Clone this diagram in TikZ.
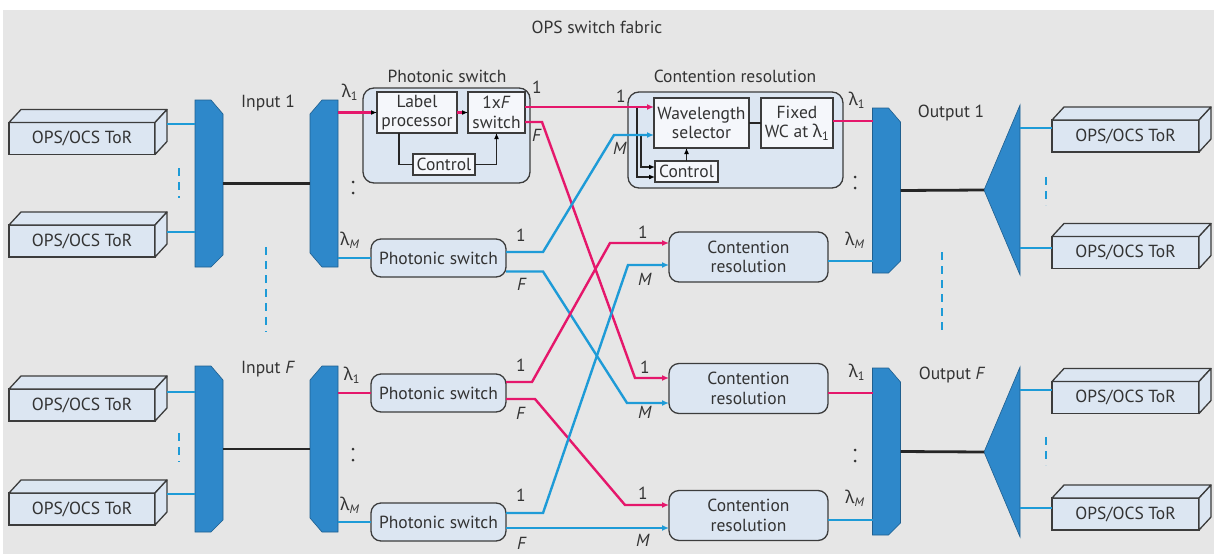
\documentclass[tikz,border=0pt]{standalone}
\usepackage{fontspec}
\setmainfont{PT Sans}
\newfontfamily\greekfont{Noto Sans}
\usetikzlibrary{arrows.meta,calc}

\definecolor{bggray}{HTML}{E6E6E6}
\definecolor{muxblue}{HTML}{2E88CA}
\definecolor{muxedge}{HTML}{1F5F8F}
\definecolor{lineblue}{HTML}{1E9BD7}
\definecolor{linepink}{HTML}{E5176B}
\definecolor{boxfill}{HTML}{DCE6F2}
\definecolor{innerfill}{HTML}{F5F7FB}
\definecolor{edgegray}{HTML}{3C3C3C}
\definecolor{txt}{HTML}{333333}

\newcommand\txtfont{\fontsize{17.5}{19.5}\selectfont}
\newcommand\lam{{\greekfont λ}}

\tikzset{
  lbl/.style={text=txt, font=\txtfont, inner sep=0pt},
  torface/.style={draw=edgegray, line width=1.3pt, fill=boxfill, minimum width=146pt,
    minimum height=32pt, inner sep=0pt, outer sep=0pt, text=txt, font=\txtfont},
  torside/.style={draw=edgegray, line width=1.3pt, fill=boxfill, line join=round},
  muxframe/.style={minimum width=28pt, inner sep=0pt, outer sep=0pt},
  muxpaint/.style={fill=muxblue, draw=muxedge, line width=0.6pt},
  grpbox/.style={draw=edgegray, line width=1.3pt, fill=boxfill, rounded corners=11pt,
    inner sep=0pt, outer sep=0pt},
  rbox/.style={draw=edgegray, line width=1.3pt, fill=boxfill, rounded corners=10pt,
    inner sep=0pt, outer sep=0pt, align=center, text=txt, font=\txtfont},
  inbox/.style={draw=edgegray, line width=1.2pt, fill=innerfill, inner sep=0pt,
    outer sep=0pt, align=center, text=txt, font=\txtfont},
  bl/.style={draw=lineblue, line width=2.4pt},
  pk/.style={draw=linepink, line width=2.4pt},
  tipc/.style={-{Latex[length=7pt,width=6pt]}},
  tipk/.style={-{Latex[length=6pt,width=5pt,color=black]}},
  blk/.style={draw=black!85, line width=2.8pt},
  ctrl/.style={draw=black!85, line width=1.2pt},
  dashblue/.style={draw=lineblue, line width=2.6pt, dash pattern=on 8pt off 6pt},
  dotmark/.style={fill=txt, draw=none},
}

% 3-D top-of-rack box: name, x, y of the front face centre, width
\newcommand\torbox[4]{%
  \node[torface, minimum width=#4pt] (#1) at (#2,#3) {OPS/OCS ToR};
  \filldraw[torside] (#1.north west) -- ++(12,-13) -- ++(#4,0) -- (#1.north east) -- cycle;
  \filldraw[torside] (#1.north east) -- ++(12,-13) -- ++(0,32) -- (#1.south east) -- cycle;
}
% multiplexer with chamfered right side: name, x, y, height
\newcommand\muxright[4]{%
  \node[muxframe, minimum height=#4pt] (#1) at (#2,#3) {};
  \filldraw[muxpaint] (#1.north west) -- ($(#1.north east)+(-12,0)$) -- ($(#1.north east)+(0,14)$)
    -- ($(#1.south east)+(0,-12)$) -- ($(#1.south east)+(-12,0)$) -- (#1.south west) -- cycle;
}
% demultiplexer with chamfered left side: name, x, y, height
\newcommand\muxleft[4]{%
  \node[muxframe, minimum height=#4pt] (#1) at (#2,#3) {};
  \filldraw[muxpaint] (#1.north east) -- ($(#1.north west)+(12,0)$) -- ($(#1.north west)+(0,14)$)
    -- ($(#1.south west)+(0,-14)$) -- ($(#1.south west)+(12,0)$) -- (#1.south east) -- cycle;
}
% passive coupler drawn as a triangle: name, x, y
\newcommand\coupler[3]{%
  \node[muxframe, minimum width=36pt, minimum height=170pt] (#1) at (#2,#3) {};
  \filldraw[muxpaint] (#1.west) -- (#1.north east) -- (#1.south east) -- cycle;
}

\begin{document}
\begin{tikzpicture}[x=1pt,y=-1pt]
  \useasboundingbox (0,0) rectangle (1214,554);
  \fill[white] (0,0) rectangle (1214,554);
  \fill[bggray] (3,10) rectangle (1214,554);

  \node[lbl] (title) at (597,27) {OPS switch fabric};

  % ---------------- ToRs on the input side ----------------
  \torbox{tA}{82}{138.5}{146}
  \torbox{tB}{82}{241}{146}
  \torbox{tC}{82}{405}{146}
  \torbox{tD}{82}{509}{146}

  % ---------------- ToRs on the output side ----------------
  \torbox{rA}{1125.5}{136}{147}
  \torbox{rB}{1125.5}{252.5}{147}
  \torbox{rC}{1125.5}{397.5}{147}
  \torbox{rD}{1125.5}{514}{147}

  % ---------------- multiplexers / demultiplexers ----------------
  \muxright{mA}{209}{183.5}{167}
  \muxright{mF}{209}{449}{166}
  \muxleft{dA}{324}{183.5}{167}
  \muxleft{dF}{324}{449}{166}
  \muxright{oA}{886.5}{190.5}{165}
  \muxright{oF}{886.5}{451.5}{167}
  \coupler{cA}{1002}{190}
  \coupler{cF}{1002}{452}

  \node[lbl] (in1) at (268,103) {Input 1};
  \node[lbl] (inF) at (268,369) {Input \textit{F}};
  \node[lbl] (out1) at (951,113) {Output 1};
  \node[lbl] (outF) at (952,375) {Output \textit{F}};

  % ToR to multiplexer fibres
  \coordinate (tAo) at ($(tA.east)+(12,-14.5)$);
  \coordinate (tBo) at ($(tB.east)+(12,-9)$);
  \coordinate (tCo) at ($(tC.east)+(12,-13)$);
  \coordinate (tDo) at ($(tD.east)+(12,-15)$);
  \draw[bl] (tAo) -- (tAo -| mA.west);
  \draw[bl] (tBo) -- (tBo -| mA.west);
  \draw[bl] (tCo) -- (tCo -| mF.west);
  \draw[bl] (tDo) -- (tDo -| mF.west);

  \draw[blk] (mA.east) -- (dA.west);
  \draw[blk] (mF.east) -- (dF.west);
  \draw[blk] (oA.east) -- (cA.west);
  \draw[blk] (oF.east) -- (cF.west);

  % coupler to ToR fibres
  \coordinate (rAi) at ($(rA.west)+(0,-8)$);
  \coordinate (rBi) at ($(rB.west)+(0,-4.5)$);
  \coordinate (rCi) at ($(rC.west)+(0,-7.5)$);
  \coordinate (rDi) at ($(rD.west)+(0,-6)$);
  \draw[bl] (rAi -| cA.east) -- (rAi);
  \draw[bl] (rBi -| cA.east) -- (rBi);
  \draw[bl] (rCi -| cF.east) -- (rCi);
  \draw[bl] (rDi -| cF.east) -- (rDi);

  % vertical ellipses
  \draw[dashblue] (179,168) -- (179,198);
  \draw[dashblue] (179,433) -- (179,462);
  \draw[dashblue] (1046,177) -- (1046,205);
  \draw[dashblue] (1046,437) -- (1046,465);
  \draw[dashblue] (266,247) -- (266,332);
  \draw[dashblue] (942,252) -- (942,332);
  \foreach \px/\py in {353/182, 353/449, 855/177, 855/450}{
    \fill[dotmark] (\px,\py) circle (1.5);
    \fill[dotmark] (\px,\py+11) circle (1.5);
  }

  % ---------------- detailed photonic switch ----------------
  \node[grpbox, minimum width=167pt, minimum height=95pt] (psg) at (446.5,135.5) {};
  \node[lbl] (psgt) at (447,76) {Photonic switch};
  \node[inbox, minimum width=80pt, minimum height=41pt] (lp) at (417,112.5) {Label\\processor};
  \node[inbox, minimum width=57pt, minimum height=41pt] (sw) at (496.5,112.5) {1x\textit{F}\\switch};
  \node[inbox, minimum width=62pt, minimum height=21pt] (ctl) at (444,164.5) {Control};
  \draw[pk, tipk] (lp.east) -- (sw.west);
  \draw[ctrl] ($(lp.south)+(-18,0)$) |- (ctl.west);
  \draw[ctrl, tipk] (ctl.east) -| (sw.south);

  % ---------------- detailed contention resolution ----------------
  \node[grpbox, minimum width=215pt, minimum height=96pt] (crg) at (735.5,140) {};
  \node[lbl] (crgt) at (735,76) {Contention resolution};
  \node[inbox, minimum width=95pt, minimum height=50pt] (ws) at (701.5,123) {Wavelength\\selector};
  \node[inbox, minimum width=72pt, minimum height=50pt] (wc) at (797,123) {Fixed\\WC at \lam\textsubscript{1}};
  \node[inbox, minimum width=63pt, minimum height=21pt] (ctl2) at (686.5,171.5) {Control};
  \draw[ctrl] (ws.east) -- (wc.west);
  \draw[ctrl, tipk] (ctl2.north) -- (ctl2.north |- ws.south);
  \draw[ctrl, tipk] ($(ws.west)+(-17,-16)$) |- ($(ctl2.west)+(0,5.5)$);
  \draw[ctrl, tipk] ($(ws.west)+(-13,12)$) |- ($(ctl2.west)+(0,-4.5)$);

  % ---------------- compact photonic switches ----------------
  \node[rbox, minimum width=135pt, minimum height=38pt] (ps2) at (438.5,258) {Photonic switch};
  \node[rbox, minimum width=135pt, minimum height=38pt] (ps3) at (438.5,393) {Photonic switch};
  \node[rbox, minimum width=135pt, minimum height=38pt] (ps4) at (438.5,522) {Photonic switch};

  % ---------------- compact contention resolution blocks ----------------
  \node[rbox, minimum width=159pt, minimum height=50pt] (cr2) at (748.5,257) {Contention\\resolution};
  \node[rbox, minimum width=159pt, minimum height=50pt] (cr3) at (748.5,388.5) {Contention\\resolution};
  \node[rbox, minimum width=159pt, minimum height=50pt] (cr4) at (748.5,515.5) {Contention\\resolution};

  % demultiplexer outputs
  \draw[pk, tipk] (lp.west -| dA.east) -- (lp.west);
  \draw[bl] (ps2.west -| dA.east) -- (ps2.west);
  \draw[pk] (ps3.west -| dF.east) -- (ps3.west);
  \draw[bl] (ps4.west -| dF.east) -- (ps4.west);

  % switch outputs towards contention resolution
  \coordinate (s1) at ($(sw.east)+(0,-5.5)$);
  \draw[pk, tipc] (s1) -- (s1 -| ws.west);
  \draw[pk, tipc] ($(sw.east)+(0,9.5)$) -- ++(17,0) -- ($(cr3.west)+(-34,-10.5)$) -- ($(cr3.west)+(0,-10.5)$);
  \draw[bl, tipc] ($(ps2.east)+(0,-6)$) -- ++(37,0) -- ($(ws.west)+(-40,12)$) -- ($(ws.west)+(0,12)$);
  \draw[bl, tipc] ($(ps2.east)+(0,13.5)$) -- ++(37,0) -- ($(cr3.west)+(-42,14.5)$) -- ($(cr3.west)+(0,14.5)$);
  \draw[pk, tipc] ($(ps3.east)+(0,-11)$) -- ++(26,0) -- ($(cr2.west)+(-59,-14)$) -- ($(cr2.west)+(0,-14)$);
  \draw[pk, tipc] ($(ps3.east)+(0,6)$) -- ++(29,0) -- ($(cr4.west)+(-44,-10.5)$) -- ($(cr4.west)+(0,-10.5)$);
  \draw[bl, tipc] ($(ps4.east)+(0,-9)$) -- ++(37,0) -- ($(cr2.west)+(-41,8)$) -- ($(cr2.west)+(0,8)$);
  \draw[bl, tipc] ($(ps4.east)+(0,6)$) -- ($(cr4.west)+(0,12.5)$);

  % contention resolution outputs to the output multiplexers
  \coordinate (w1) at ($(wc.east)+(0,-2)$);
  \coordinate (c2o) at ($(cr2.east)+(0,4)$);
  \coordinate (c3o) at ($(cr3.east)+(0,4.5)$);
  \coordinate (c4o) at ($(cr4.east)+(0,4.5)$);
  \draw[pk] (w1) -- (w1 -| oA.west);
  \draw[bl] (c2o) -- (c2o -| oA.west);
  \draw[pk] (c3o) -- (c3o -| oF.west);
  \draw[bl] (c4o) -- (c4o -| oF.west);

  % wavelength labels
  \node[lbl] (li1) at (350,92) {\lam\textsubscript{1}};
  \node[lbl] (liM) at (350,240) {\lam\textsubscript{\textit{M}}};
  \node[lbl] (li2) at (352,375) {\lam\textsubscript{1}};
  \node[lbl] (liN) at (350,505) {\lam\textsubscript{\textit{M}}};
  \node[lbl] (lo1) at (857,100) {\lam\textsubscript{1}};
  \node[lbl] (loM) at (855,240) {\lam\textsubscript{\textit{M}}};
  \node[lbl] (lo2) at (857,372) {\lam\textsubscript{1}};
  \node[lbl] (loN) at (855,498) {\lam\textsubscript{\textit{M}}};

  % port labels
  \node[lbl] (p1a) at (537,87) {1};
  \node[lbl] (pfa) at (537,135) {\textit{F}};
  \node[lbl] (p1b) at (521,235) {1};
  \node[lbl] (pfb) at (522,284) {\textit{F}};
  \node[lbl] (p1c) at (521,365) {1};
  \node[lbl] (pfc) at (521,413) {\textit{F}};
  \node[lbl] (p1d) at (521,495) {1};
  \node[lbl] (pfd) at (522,543) {\textit{F}};
  \node[lbl] (q1a) at (621,96) {1};
  \node[lbl] (qma) at (620,148) {\textit{M}};
  \node[lbl] (q1b) at (643,232) {1};
  \node[lbl] (qmb) at (645,279) {\textit{M}};
  \node[lbl] (q1c) at (645,367) {1};
  \node[lbl] (qmc) at (645,412) {\textit{M}};
  \node[lbl] (q1d) at (643,493) {1};
  \node[lbl] (qmd) at (643,540) {\textit{M}};
\end{tikzpicture}
\end{document}
